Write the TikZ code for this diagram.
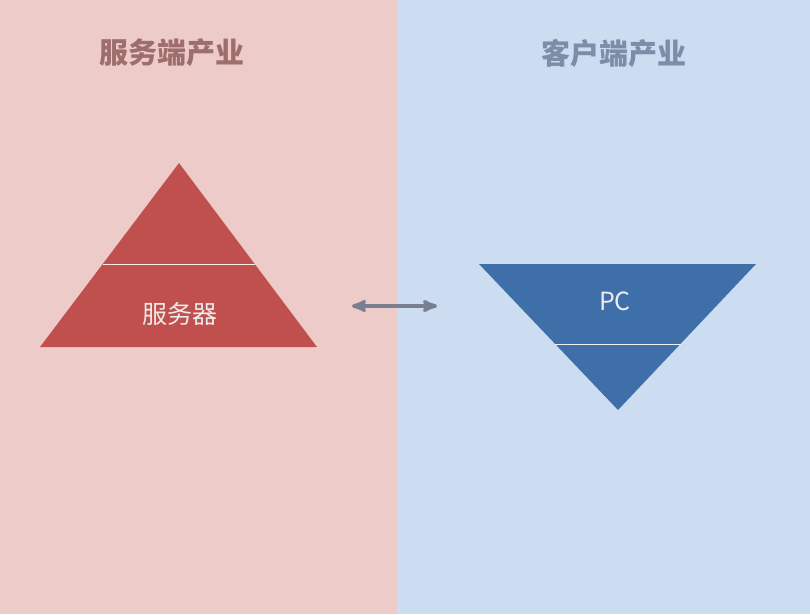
\documentclass[tikz,border=0pt]{standalone}
\usepackage{fontspec}
\setmainfont{Noto Sans CJK SC}
\usetikzlibrary{arrows}
\definecolor{leftbg}{HTML}{EDCBC9}
\definecolor{rightbg}{HTML}{CCDDF2}
\definecolor{redtri}{HTML}{C0504D}
\definecolor{bluetri}{HTML}{3F6FA8}
\definecolor{lefttitle}{HTML}{9E6E6D}
\definecolor{righttitle}{HTML}{7B8DA7}
\definecolor{arrowgray}{HTML}{7A7F90}
\tikzset{title/.style={font=\bfseries\fontsize{29}{34}\selectfont},
  label/.style={text=white!85!gray,font=\fontsize{25}{30}\selectfont}}
\begin{document}
\begin{tikzpicture}[x=1pt,y=-1pt]
\fill[leftbg] (0,0) rectangle (397,614);
\fill[rightbg] (397,0) rectangle (810,614);
\node[title,text=lefttitle] (T1) at (172,53) {服务端产业};
\node[title,text=righttitle] (T2) at (614,53) {客户端产业};
% pyramid
\fill[redtri] (179,163) -- (317,347) -- (40,347) -- cycle;
\draw[white!90!redtri,semithick] (103,264) -- (255,264);
\node[label] (server) at (180,314) {服务器};
% inverted pyramid
\fill[bluetri] (479,264) -- (756,264) -- (618,410) -- cycle;
\draw[white!90!bluetri,semithick] (555,344) -- (681,344);
\node[label] (pc) at (615,301) {PC};
\path (352,306) coordinate (A1);
\path (437,306) coordinate (A2);
\draw[arrowgray,line width=3.5pt,<->,>=stealth'] (A1) -- (A2);
\end{tikzpicture}
\end{document}
